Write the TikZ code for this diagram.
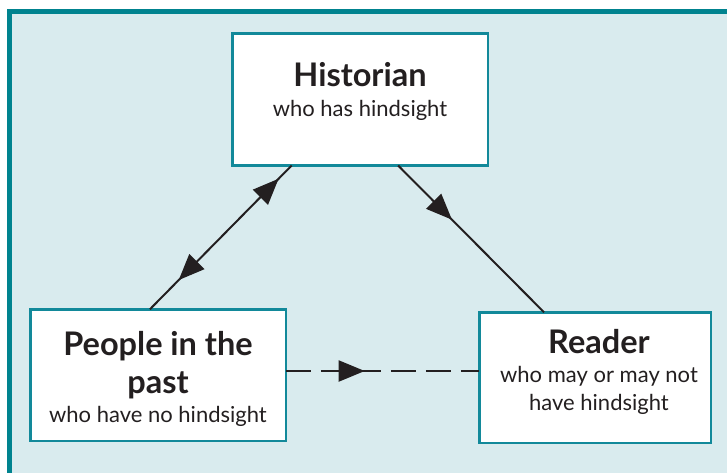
\documentclass[tikz,border=0pt]{standalone}
\usepackage{fontspec}
\setmainfont{Lato}
\usetikzlibrary{arrows.meta, positioning, decorations.markings}
\definecolor{hsTeal}{HTML}{00838F}
\definecolor{hsEdge}{HTML}{12899A}
\definecolor{hsBg}{HTML}{D9EBEE}
\definecolor{hsInk}{HTML}{231F20}
\newcommand{\hsTitle}{\bfseries\fontsize{32.5}{36}\selectfont}

\begin{document}
\begin{tikzpicture}[x=1pt, y=-1pt,
    box/.style={draw=hsEdge, line width=2.5pt, fill=white, minimum width=255.5pt, minimum height=132pt, inner sep=0pt, outer sep=0pt},
    lbl/.style={align=center, inner sep=0pt, text=hsInk, font=\fontsize{22}{28}\selectfont},
    link/.style={draw=hsInk, line width=2pt},
    fwd/.style={postaction={decorate, solid, decoration={markings, mark=at position #1 with {\arrow[hsInk]{Triangle[length=26pt, width=21pt]}}}}},
    bwd/.style={postaction={decorate, solid, decoration={markings, mark=at position #1 with {\arrowreversed[hsInk]{Triangle[length=26pt, width=21pt]}}}}}]
  \useasboundingbox (0,0) rectangle (727,472);
  \clip (0,0) rectangle (727,472);
  % panel
  \draw[hsTeal, line width=5pt, fill=hsBg] (9.5,11.5) rectangle (760,500);

  \node[box] (hist) at (360,99.5) {};
  \node[box, minimum height=131.5pt] (past) at (158,375) {};
  \node[box, minimum width=231.5pt, minimum height=130.5pt] (reader) at (595,377.5) {};

  \node[lbl, below=29pt of hist.north] (histtxt) {{\hsTitle Historian}\\[1.5pt]who has hindsight};
  \node[lbl, below=21.5pt of past.north] (pasttxt) {{\hsTitle People in the}\\[10pt]{\hsTitle past}\\[1.5pt]who have no hindsight};
  \node[lbl, below=16.5pt of reader.north, xshift=4pt] (readertxt) {{\hsTitle Reader}\\[1.5pt]who may or may not\\have hindsight};

  \draw[link, fwd=0.908, bwd=0.203] (past.97) -- (hist.224);
  \draw[link, fwd=0.369] (hist.300) -- (reader.128);
  \draw[link, dash pattern=on 25pt off 10pt, fwd=0.408] ([yshift=4pt]past.east) -- ([yshift=4pt]past.east -| reader.west);
\end{tikzpicture}
\end{document}
